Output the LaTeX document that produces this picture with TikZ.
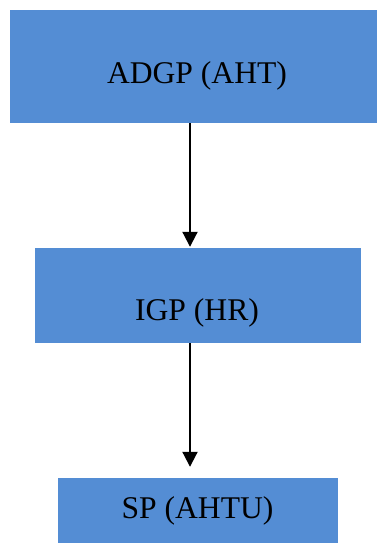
\documentclass[tikz,border=0pt]{standalone}
\usepackage{fontspec}
\setmainfont{Liberation Serif}
\usetikzlibrary{arrows.meta}
\definecolor{boxblue}{RGB}{84,141,212}
\begin{document}
\begin{tikzpicture}[x=1pt,y=-1pt,
  box/.style={draw=none,fill=boxblue,rectangle,inner sep=0pt},
  lbl/.style={anchor=base,inner sep=0pt,font=\fontsize{31.6}{34}\selectfont},
  arr/.style={line width=2pt,-{Triangle[length=15pt,width=15pt]}}]
\useasboundingbox (0,0) rectangle (377,543);
\node[box,minimum width=367pt,minimum height=113pt] (b1) at (193.5,66.5) {};
\node[box,minimum width=326pt,minimum height=95pt] (b2) at (198,295.5) {};
\node[box,minimum width=280pt,minimum height=65pt] (b3) at (198,510.5) {};
\node[lbl] (t1) at (197,83) {ADGP (AHT)};
\node[lbl] (t2) at (197,320) {IGP (HR)};
\node[lbl] (t3) at (197.5,518) {SP (AHTU)};
\coordinate (ax) at (190,0);
\draw[arr] (b1.south -| ax) -- ([yshift=1pt]b2.north -| ax);
\draw[arr] (b2.south -| ax) -- ([yshift=11pt]b3.north -| ax);
\end{tikzpicture}
\end{document}
